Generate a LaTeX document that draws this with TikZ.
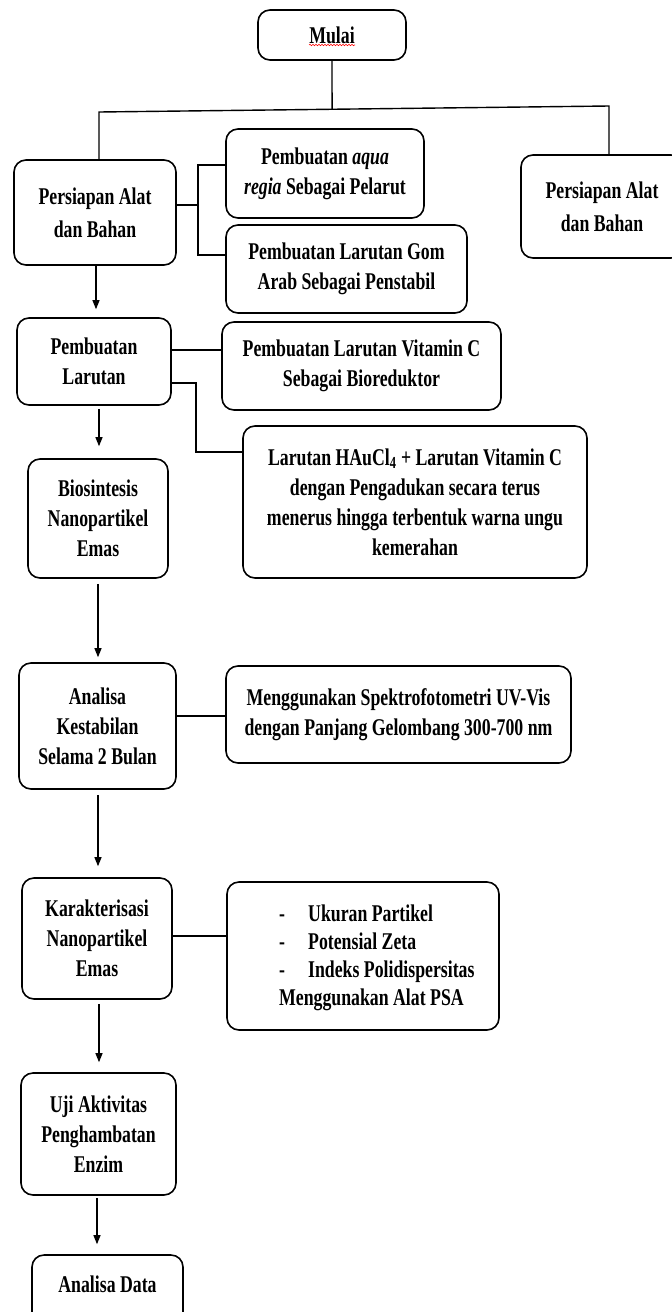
\documentclass[tikz,border=0pt]{standalone}
\usepackage{fontspec}
\setmainfont{Liberation Serif}[FakeStretch=0.74]
\usetikzlibrary{arrows.meta,calc,decorations.pathmorphing}
\newcommand{\boxfont}{\fontsize{24}{30}\selectfont\bfseries}
\newcommand{\boxfontw}{\fontsize{24}{33}\selectfont\bfseries}
\newcommand{\boxfontn}{\fontsize{24}{28}\selectfont\bfseries}
\begin{document}
\begin{tikzpicture}[x=1pt,y=-1pt,
  box/.style={draw, line width=1.6pt, rounded corners=12pt, inner sep=0pt, align=center, font=\boxfont},
  ln/.style={line width=1.4pt},
  arr/.style={line width=1.2pt, -{Triangle[length=9pt,width=7pt]}, shorten <=3pt, shorten >=9pt}]
\useasboundingbox (0,0) rectangle (672,1312);
\clip (0,0) rectangle (672,1312);
\fill[white] (0,0) rectangle (672,1312);

% nodes
\node[box, minimum width=148pt, minimum height=50pt] (mulai) at (332,35) {Mulai};
\node[box, font=\boxfontw, minimum width=162pt, minimum height=105pt] (pers1) at (95,212.5) {Persiapan Alat\\dan Bahan};
\node[box, minimum width=198pt, minimum height=89pt] (aqua) at (325,173.5) {Pembuatan \textit{aqua}\\\textit{regia} Sebagai Pelarut};
\node[box, minimum width=241pt, minimum height=88pt] (gom) at (346.5,269) {Pembuatan Larutan Gom\\Arab Sebagai Penstabil};
\node[box, font=\boxfontw, minimum width=162pt, minimum height=103pt] (pers2) at (602,206.5) {Persiapan Alat\\dan Bahan};
\node[box, minimum width=154pt, minimum height=87pt] (pemb) at (94,361.5) {Pembuatan\\Larutan};
\node[box, minimum width=279pt, minimum height=88pt] (vitc) at (361.5,366) {Pembuatan Larutan Vitamin C\\Sebagai Bioreduktor};
\node[box, minimum width=344pt, minimum height=152pt] (hau) at (415,502) {Larutan HAuCl\textsubscript{4} + Larutan Vitamin C\\dengan Pengadukan secara terus\\menerus hingga terbentuk warna ungu\\kemerahan};
\node[box, minimum width=140pt, minimum height=119pt] (bio) at (98,518.5) {Biosintesis\\Nanopartikel\\Emas};
\node[box, minimum width=157pt, minimum height=126pt] (anak) at (97.5,726) {Analisa\\Kestabilan\\Selama 2 Bulan};
\node[box, minimum width=345pt, minimum height=97pt] (uv) at (398.5,714.5) {Menggunakan Spektrofotometri UV-Vis\\dengan Panjang Gelombang 300-700 nm};
\node[box, minimum width=150pt, minimum height=121pt] (kar) at (97,938.5) {Karakterisasi\\Nanopartikel\\Emas};
\node[box, minimum width=272pt, minimum height=148pt] (psa) at (363,956) {};
\node[anchor=north west, align=left, font=\boxfontn, inner sep=0pt] (psatxt) at (279,905)
  {\makebox[29pt][l]{-}Ukuran Partikel\\\makebox[29pt][l]{-}Potensial Zeta\\\makebox[29pt][l]{-}Indeks Polidispersitas\\Menggunakan Alat PSA};
\node[box, minimum width=155pt, minimum height=122pt] (uji) at (98.5,1134) {Uji Aktivitas\\Penghambatan\\Enzim};
\node[box, minimum width=151pt, minimum height=100pt] (data) at (107.5,1305) {};
\node[font=\boxfont, inner sep=0pt] (datatxt) at (107.5,1284) {Analisa Data};

% spelling underline under Mulai
\draw[red, line width=0.6pt, decorate, decoration={snake, amplitude=0.7pt, segment length=3pt}]
  ($(mulai.center)+(-23,10)$) -- ++(46,0);

% top tree
\coordinate (hl) at (99,112);
\coordinate (hr) at (609,106);
\coordinate (hub) at ($(hl)!0.457!(hr)$);
\draw[ln] (mulai.south) -- (hub);
\draw[ln] (pers1.north -| hl) -- (hl) -- (hr) -- (pers2.north -| hr);

% bracket to aqua / gom
\coordinate (bm) at (198,205);
\coordinate (b1) at (198,165);
\coordinate (b2) at (198,255);
\draw[ln] (pers1.east |- bm) -- (bm);
\draw[ln] (aqua.west |- b1) -- (b1) -- (b2) -- (gom.west |- b2);

% pembuatan connectors
\coordinate (v1) at (0,350);
\draw[ln] (pemb.east |- v1) -- (vitc.west |- v1);
\coordinate (h1) at (196,383);
\coordinate (h2) at (196,452);
\draw[ln] (pemb.east |- h1) -- (h1) -- (h2) -- (hau.west |- h2);

% side connectors
\coordinate (u1) at (0,716);
\draw[ln] (anak.east |- u1) -- (uv.west |- u1);
\coordinate (k1) at (0,936);
\draw[ln] (kar.east |- k1) -- (psa.west |- k1);

% main arrows
\coordinate (a1) at (96,0);
\coordinate (a2) at (99,0);
\coordinate (a3) at (98,0);
\coordinate (a4) at (98,0);
\coordinate (a5) at (99,0);
\coordinate (a6) at (97,0);
\draw[arr, shorten <=0pt, shorten >=8pt] (pers1.south -| a1) -- (pemb.north -| a1);
\draw[arr, shorten >=12pt] (pemb.south -| a2) -- (bio.north -| a2);
\draw[arr, shorten <=5pt, shorten >=5pt] (bio.south -| a3) -- (anak.north -| a3);
\draw[arr, shorten <=5pt, shorten >=11pt] (anak.south -| a4) -- (kar.north -| a4);
\draw[arr, shorten <=4pt, shorten >=10pt] (kar.south -| a5) -- (uji.north -| a5);
\draw[arr, shorten <=2pt, shorten >=10pt] (uji.south -| a6) -- (data.north -| a6);
\end{tikzpicture}
\end{document}
